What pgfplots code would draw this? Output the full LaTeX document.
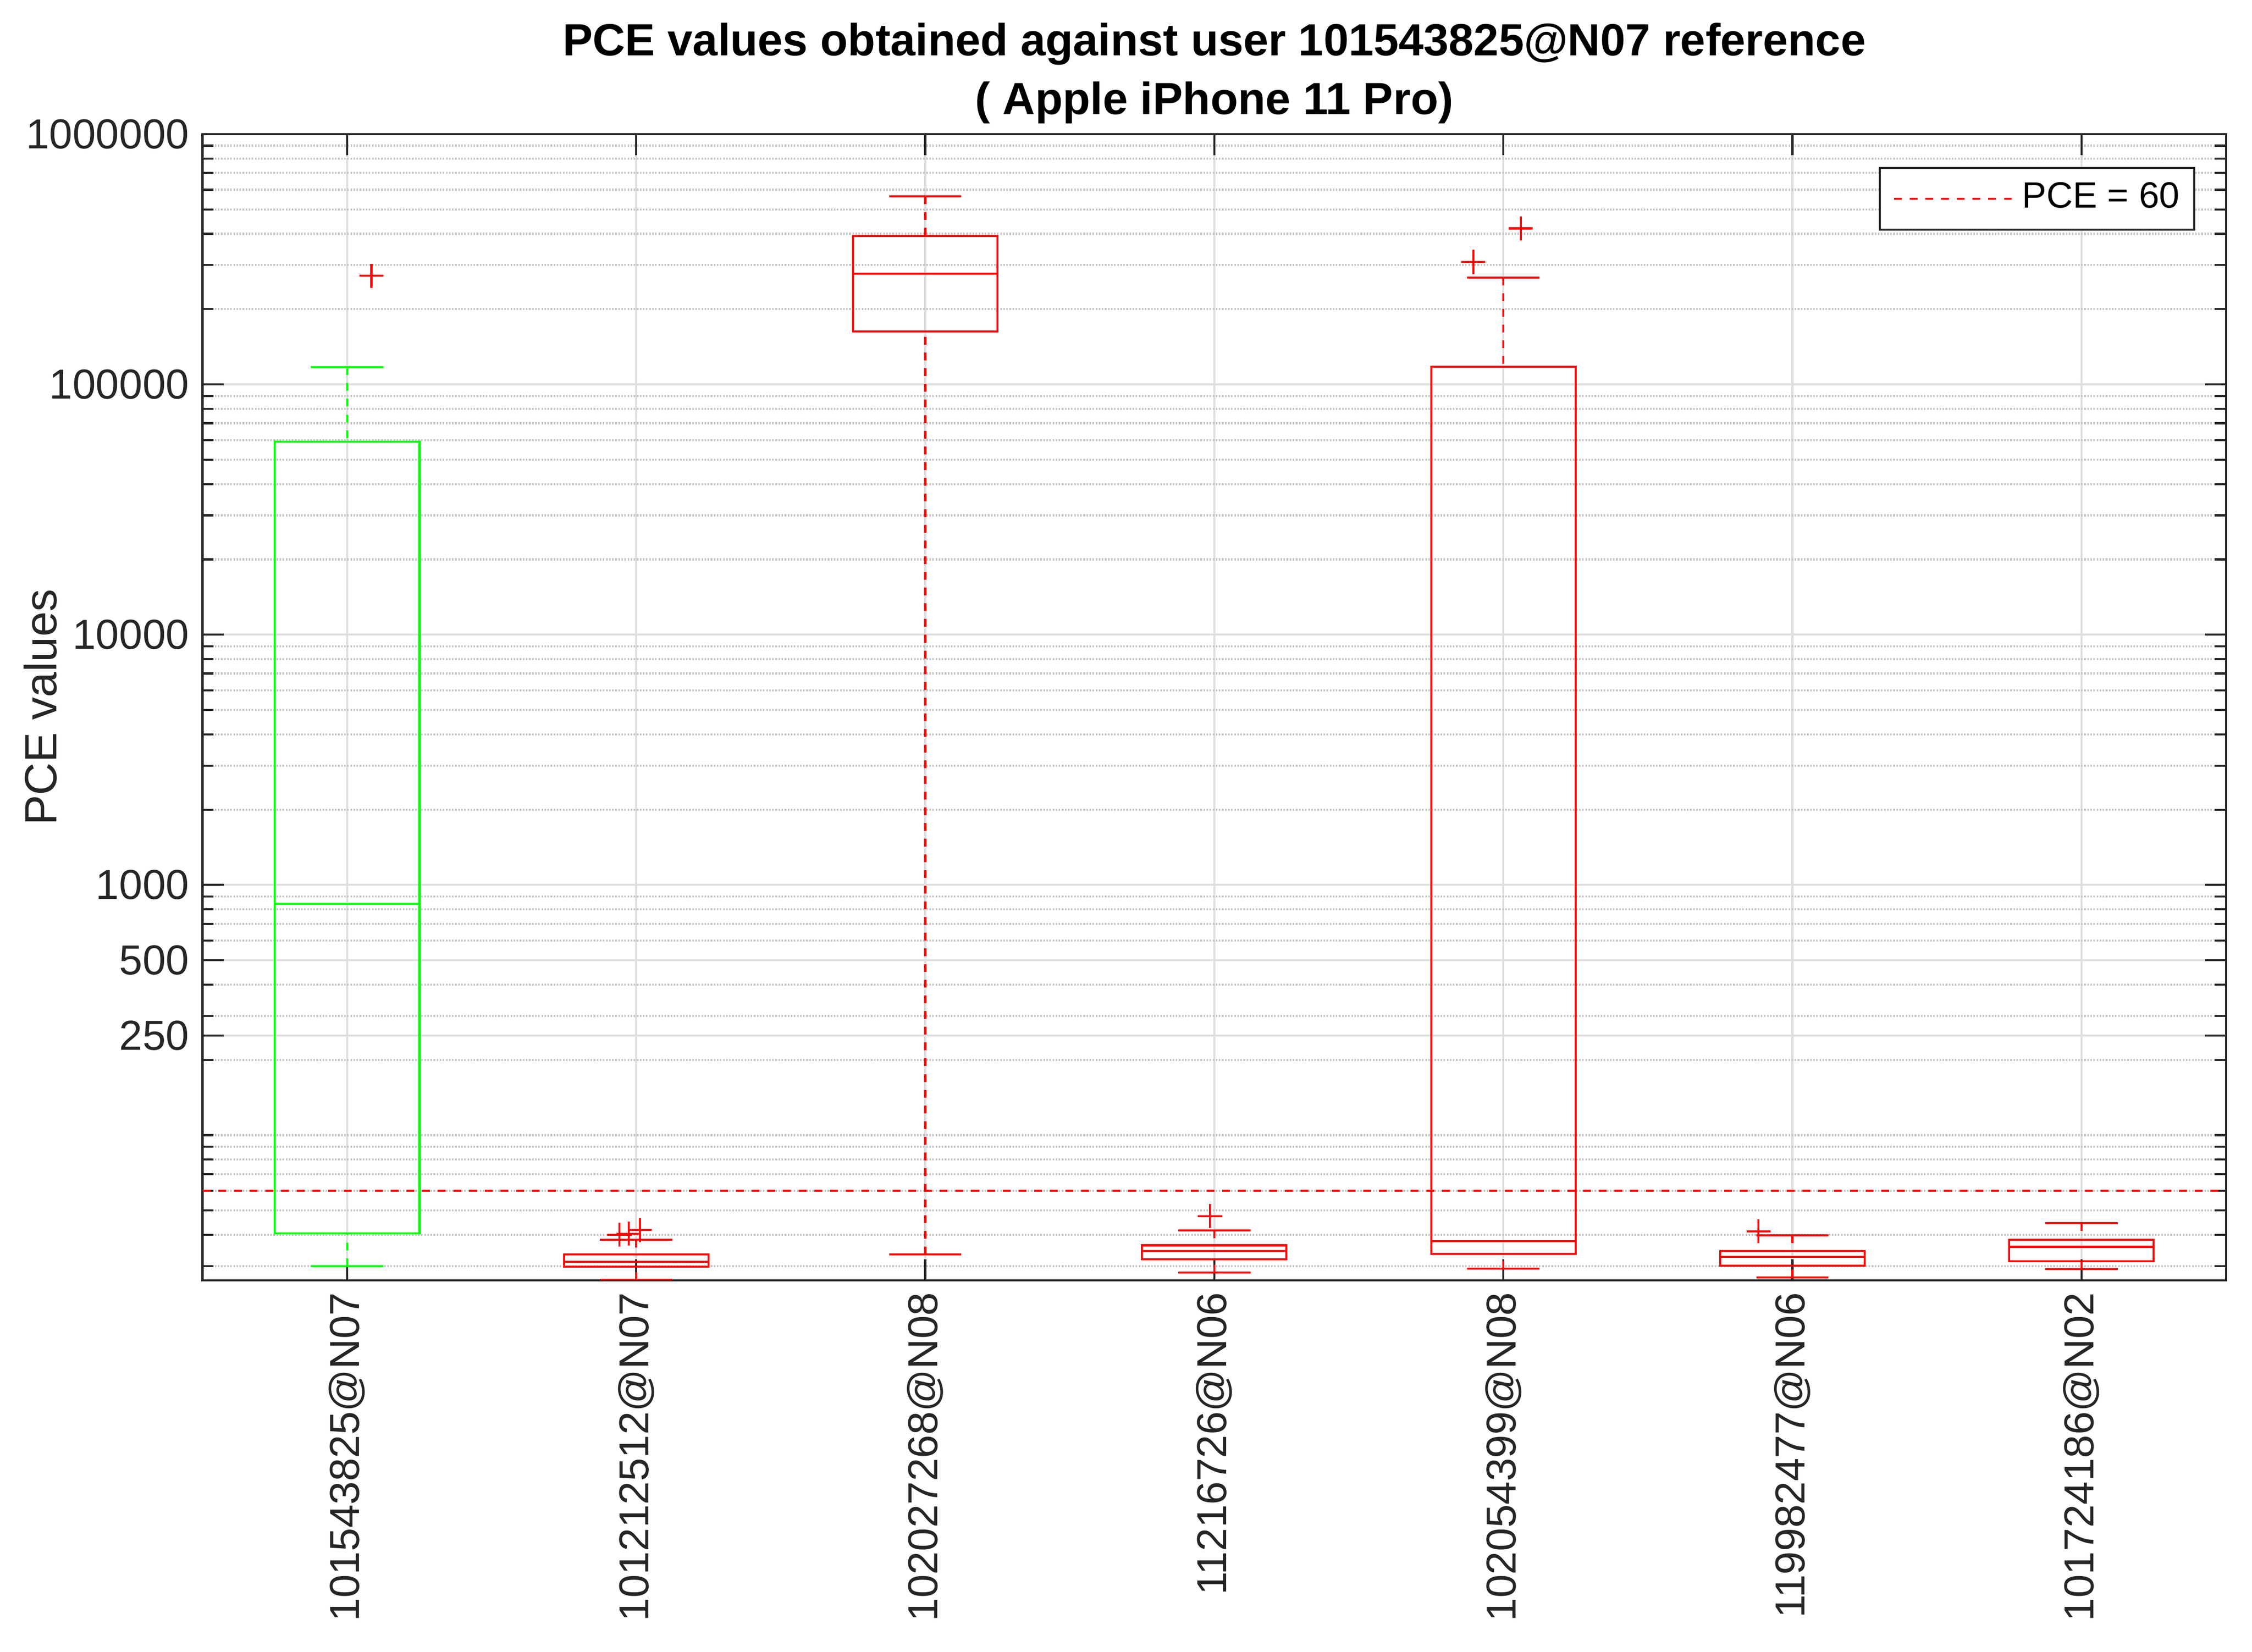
\documentclass[border=0pt]{standalone}
\usepackage{fontspec}
\setmainfont{Liberation Sans}
\usepackage{pgfplots}
\pgfplotsset{compat=1.18}
\usepgfplotslibrary{statistics}
\definecolor{axgray}{RGB}{38,38,38}
\definecolor{mgreen}{RGB}{0,255,0}
\definecolor{mred}{RGB}{255,0,0}
\definecolor{majgrid}{RGB}{223,223,223}
\definecolor{mingrid}{RGB}{196,196,196}
\begin{document}
\begin{tikzpicture}
\begin{axis}[
  at={(0,0)}, anchor=south west,
  scale only axis, width=420.5pt, height=238.2pt,
  xmin=0.5, xmax=7.5,
  ymode=log, ymin=26.3, ymax=1000000,
  xtick={1,2,3,4,5,6,7},
  xticklabels={101543825@N07,101212512@N07,102027268@N08,11216726@N06,102054399@N08,119982477@N06,101724186@N02},
  ytick={250,500,1000,10000,100000,1000000},
  yticklabels={250,500,1000,10000,100000,1000000},
  minor ytick={30,40,50,60,70,80,90,100,200,300,400,600,700,800,900,2000,3000,4000,5000,6000,7000,8000,9000,20000,30000,40000,50000,60000,70000,80000,90000,200000,300000,400000,500000,600000,700000,800000,900000},
  /pgf/number format/assume math mode=true,
  tick label style={text=axgray, font=\fontsize{8.7}{10}\selectfont},
  xticklabel style={rotate=90, anchor=east, inner xsep=2.3pt},
  yticklabel style={inner xsep=2.6pt},
  grid=both,
  major grid style={majgrid, line width=0.42pt, solid},
  minor grid style={mingrid, line width=0.42pt, dash pattern=on 0.32pt off 0.32pt},
  tick align=inside, tick pos=both,
  major tick length=4.4pt, minor tick length=2.3pt,
  every tick/.style={axgray, line width=0.42pt},
  axis line style={axgray, line width=0.45pt},
  ylabel={PCE values},
  ylabel style={at={(axis description cs:0,0.5)}, anchor=center, yshift=33.7pt, text=axgray, font=\fontsize{9.4}{11}\selectfont},
  title={PCE values obtained against user 101543825@N07 reference\\( Apple iPhone 11 Pro)},
  title style={align=center, at={(axis description cs:0.5,1)}, anchor=south, inner sep=2pt, yshift=-6pt, text=black, font=\bfseries\fontsize{9.36}{12.2}\selectfont},
  legend style={at={(axis description cs:1,1)}, anchor=north east, xshift=-6.4pt, yshift=-6.8pt, draw=axgray, line width=0.42pt, fill=white, font=\fontsize{7.6}{9}\selectfont, inner xsep=1pt, inner ysep=1pt, nodes={inner ysep=2pt}},
  legend image code/.code={\path (-1.8pt,0pt); \draw[#1] (0pt,0pt) -- (24.4pt,0pt);},
  every axis plot/.append style={line width=0.42pt},
  boxplot/draw direction=y,
  boxplot/box extend=0.5,
  boxplot/whisker extend=0.25,
  boxplot/every whisker/.style={dash pattern=on 1.63pt off 1.63pt},
  boxplot/draw/lower whisker/.code={%
    \draw[/pgfplots/boxplot/every whisker/.try]
      (boxplot box cs:\pgfplotsboxplotvalue{lower whisker},0.5) --
      (boxplot box cs:\pgfplotsboxplotvalue{lower quartile},0.5);
    \draw[solid]
      (boxplot whisker cs:\pgfplotsboxplotvalue{lower whisker},0) --
      (boxplot whisker cs:\pgfplotsboxplotvalue{lower whisker},1);
  },
  boxplot/draw/upper whisker/.code={%
    \draw[/pgfplots/boxplot/every whisker/.try]
      (boxplot box cs:\pgfplotsboxplotvalue{upper whisker},0.5) --
      (boxplot box cs:\pgfplotsboxplotvalue{upper quartile},0.5);
    \draw[solid]
      (boxplot whisker cs:\pgfplotsboxplotvalue{upper whisker},0) --
      (boxplot whisker cs:\pgfplotsboxplotvalue{upper whisker},1);
  },
]
% PCE = 60 threshold
\addplot[mred, dash pattern=on 1.63pt off 1.63pt] coordinates {(0.5,60) (7.5,60)};
\addlegendentry{PCE = 60}

% boxes
\addplot[mgreen, forget plot, boxplot prepared={draw position=1, lower whisker=30.0, lower quartile=40.6, median=840, upper quartile=59000, upper whisker=117000}] coordinates {};
\addplot[mred, forget plot, boxplot prepared={draw position=2, lower whisker=26.4, lower quartile=29.8, median=31.2, upper quartile=33.4, upper whisker=38.2}] coordinates {};
\addplot[mred, forget plot, boxplot prepared={draw position=3, lower whisker=33.4, lower quartile=162600, median=277400, upper quartile=392200, upper whisker=564500}] coordinates {};
\addplot[mred, forget plot, boxplot prepared={draw position=4, lower whisker=28.3, lower quartile=31.9, median=34.4, upper quartile=36.3, upper whisker=41.7}] coordinates {};
\addplot[mred, forget plot, boxplot prepared={draw position=5, lower whisker=29.3, lower quartile=33.6, median=37.7, upper quartile=117700, upper whisker=267600}] coordinates {};
\addplot[mred, forget plot, boxplot prepared={draw position=6, lower whisker=27.0, lower quartile=30.1, median=32.6, upper quartile=34.4, upper whisker=39.8}] coordinates {};
\addplot[mred, forget plot, boxplot prepared={draw position=7, lower whisker=29.2, lower quartile=31.4, median=35.8, upper quartile=38.2, upper whisker=44.5}] coordinates {};

% outliers
\addplot[mred, forget plot, only marks, mark=+, mark size=2.5pt, mark options={solid, line width=0.42pt}] coordinates {
  (1.084,272000)
  (1.942,40.0) (1.974,40.4) (2.013,41.8)
  (3.985,47.5)
  (4.896,308800) (5.060,420300)
  (5.883,41.3)
};
\end{axis}
\pgfresetboundingbox
\path (-42.1pt,-77.2pt) rectangle (425.9pt,266.1pt);
\end{tikzpicture}
\end{document}
